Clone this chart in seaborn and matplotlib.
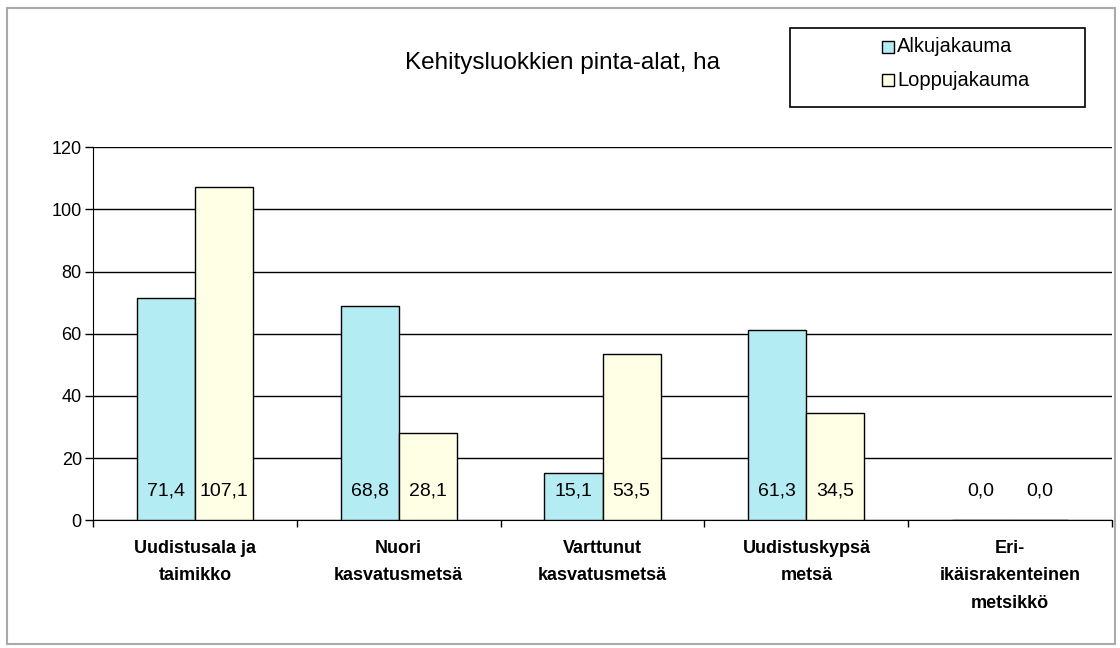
import seaborn as sns
import matplotlib.pyplot as plt
import pandas as pd
from matplotlib.patches import Rectangle

categories = ["Uudistusala ja\ntaimikko", "Nuori\nkasvatusmetsä", "Varttunut\nkasvatusmetsä",
              "Uudistuskypsä\nmetsä", "Eri-\nikäisrakenteinen\nmetsikkö"]
alku = [71.4, 68.8, 15.1, 61.3, 0.0]
loppu = [107.1, 28.1, 53.5, 34.5, 0.0]
series = ["Alkujakauma", "Loppujakauma"]
colors = ["#b4ecf4", "#ffffe6"]

df = pd.DataFrame({
    "cat": categories * 2,
    "val": alku + loppu,
    "ser": [series[0]] * 5 + [series[1]] * 5,
})

sns.set_style("white")
plt.rcParams['font.family'] = ['Liberation Sans', 'DejaVu Sans']
plt.rcParams['text.color'] = 'black'
plt.rcParams['xtick.color'] = 'black'
plt.rcParams['ytick.color'] = 'black'
plt.rcParams['axes.labelcolor'] = 'black'

fig = plt.figure(figsize=(11.2, 6.48), dpi=100)
ax = fig.add_axes([0.083, 0.197, 0.910, 0.576])

sns.barplot(data=df, x="cat", y="val", hue="ser", palette=colors, width=0.57, saturation=1,
            edgecolor="black", linewidth=1.0, ax=ax, legend=False, zorder=3)

ax.set_ylim(0, 120)
ax.set_xlim(-0.5, 4.5)
ax.set_yticks(range(0, 121, 20))
ax.yaxis.grid(True, color="black", linewidth=1.0, zorder=0)
ax.set_axisbelow(True)
for s in ["top", "right"]:
    ax.spines[s].set_visible(False)
ax.spines["left"].set_color("black")
ax.spines["bottom"].set_color("black")
ax.tick_params(axis="y", direction="out", length=6, width=1, left=True, labelsize=13, pad=2)
ax.set_xticks([i - 0.5 for i in range(6)], minor=True)
ax.tick_params(axis="x", which="minor", direction="out", length=5, width=1, bottom=True)
ax.tick_params(axis="x", which="major", length=0, pad=14)
ax.set_xticklabels(categories, fontsize=13, fontweight="bold", linespacing=1.8)
ax.set_xlabel("")
ax.set_ylabel("")

# value labels sit near the base of each bar
for cont in ax.containers:
    for bar, v in zip(cont.patches, cont.datavalues):
        ax.text(bar.get_x() + bar.get_width() / 2, 9.5, f"{v:.1f}".replace(".", ","),
                ha="center", va="center", fontsize=14, zorder=5)

fig.text(0.502, 0.903, "Kehitysluokkien pinta-alat, ha", ha="center", va="center", fontsize=17.5)

# legend box
fig.add_artist(Rectangle((790 / 1120, 1 - 107 / 648), 295 / 1120, 79 / 648,
                         transform=fig.transFigure, fill=False, edgecolor="black", linewidth=1.2))
for i, (name, c) in enumerate(zip(series, colors)):
    yy = 1 - (47 + i * 33) / 648
    fig.add_artist(Rectangle((882 / 1120, yy - 6 / 648), 12 / 1120, 12 / 648,
                             transform=fig.transFigure, facecolor=c, edgecolor="black", linewidth=1))
    fig.text(897 / 1120, yy, name, ha="left", va="center", fontsize=14.5)

# outer frame
fig.add_artist(Rectangle((7 / 1120, 4 / 648), 1108 / 1120, 636 / 648, transform=fig.transFigure,
                         fill=False, edgecolor="#aaaaaa", linewidth=1.5))

fig.savefig("out.png", dpi=100)
